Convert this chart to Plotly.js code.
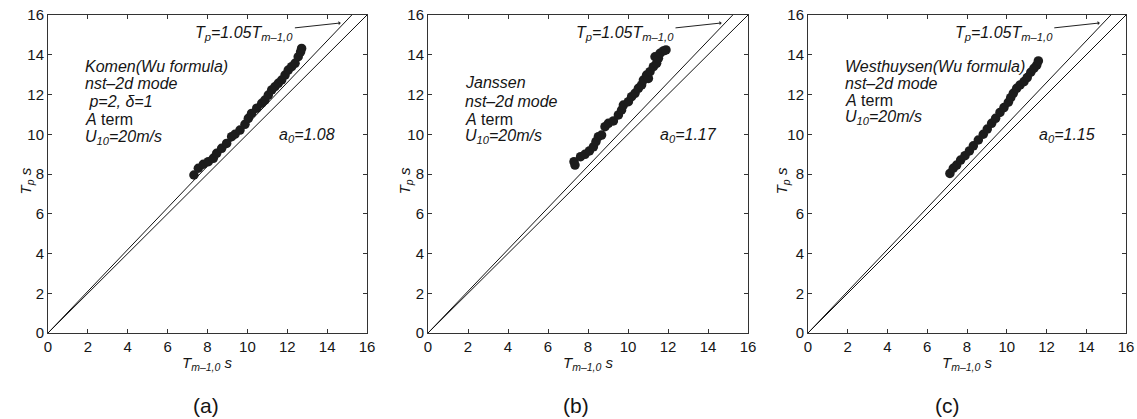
<!DOCTYPE html>
<html>
<head>
<meta charset="utf-8">
<script src="https://cdn.plot.ly/plotly-3.0.1.min.js"></script>
<style>html,body{margin:0;padding:0;background:#fff;}#chart{width:1137px;height:419px;}</style>
</head>
<body>
<div id="chart"></div>
<script>
// ---- data ----
const tickVals = [0, 2, 4, 6, 8, 10, 12, 14, 16];
const axisMax = 16;
const refRatios = [1.0, 1.05];

const komenX = [7.32,7.54,7.79,8.04,8.29,8.46,8.71,8.96,9.21,9.38,9.63,9.88,10.05,10.21,10.47,10.72,10.88,11.05,11.22,11.38,11.55,11.72,11.89,12.05,12.22,12.39,12.55,12.67,12.72];
const komenY = [7.95,8.29,8.49,8.62,8.79,9.04,9.29,9.54,9.88,10.00,10.21,10.50,10.80,11.05,11.31,11.56,11.72,11.97,12.23,12.39,12.56,12.73,12.98,13.23,13.40,13.57,13.90,14.15,14.32];

const janssenX = [7.30,7.35,7.63,7.85,8.07,8.27,8.40,8.52,8.68,8.85,9.02,9.27,9.52,9.68,9.77,10.02,10.18,10.35,10.52,10.68,10.77,10.93,11.02,11.10,11.27,11.35,11.43,11.52,11.60,11.77,11.90];
const janssenY = [8.62,8.45,8.87,8.99,9.16,9.37,9.63,9.88,9.96,10.38,10.55,10.67,10.97,11.22,11.47,11.64,11.89,12.06,12.31,12.48,12.73,12.98,12.81,13.15,13.40,13.90,13.57,13.82,14.07,14.19,14.24];

const westX = [7.14,7.31,7.48,7.68,7.90,8.12,8.32,8.57,8.82,9.02,9.24,9.44,9.66,9.86,10.08,10.20,10.33,10.50,10.67,10.87,11.03,11.21,11.37,11.51,11.59];
const westY = [8.03,8.29,8.45,8.70,8.92,9.16,9.42,9.71,10.00,10.26,10.55,10.80,11.10,11.34,11.61,11.84,12.06,12.31,12.48,12.65,12.85,13.12,13.32,13.48,13.69];

const a0Labels = ['1.08', '1.17', '1.15'];
const panelLabels = ['(a)', '(b)', '(c)'];
const modelLines = [
  ['<i>Komen(Wu formula)</i>', '<i>nst–2d mode</i>', '<i> p=2, δ=1</i>', '<i>A</i> term', '<i>U<sub>10</sub>=20m/s</i>'],
  ['<i>Janssen</i>', '<i>nst–2d mode</i>', '<i>A</i> term', '<i>U<sub>10</sub>=20m/s</i>'],
  ['<i>Westhuysen(Wu formula)</i>', '<i>nst–2d mode</i>', '<i>A</i> term', '<i>U<sub>10</sub>=20m/s</i>']
];
const modelLineY = [
  [13.43, 12.53, 11.67, 10.72, 9.86],
  [12.60, 11.67, 10.74, 9.91],
  [13.43, 12.53, 11.70, 10.82]
];

// ---- layout geometry ----
const W = 1137, H = 419;
const xDomains = [[48/W, 367/W], [428/W, 748/W], [808/W, 1126/W]];
const yDomain = [(H-333)/H, (H-15)/H];
const yTitleX = [25.5, 405.3, 782.3];
const panelLabelX = [206, 575.5, 947];

const FONT = 'Liberation Sans, Arial, Helvetica, sans-serif';
const TXT = '#151515';

const seriesX = [komenX, janssenX, westX];
const seriesY = [komenY, janssenY, westY];

const traces = [];
const annotations = [];
const layout = {
  width: W, height: H,
  margin: {l: 0, r: 0, t: 0, b: 0},
  paper_bgcolor: '#fff', plot_bgcolor: '#fff',
  showlegend: false,
  font: {family: FONT, size: 15, color: TXT}
};

for (let i = 0; i < 3; i++) {
  const sfx = i === 0 ? '' : String(i + 1);
  const xa = 'x' + sfx, ya = 'y' + sfx;
  const common = {
    range: [0, axisMax], tickvals: tickVals, ticks: 'inside', ticklen: 4,
    tickcolor: '#333', tickwidth: 1, showline: true, linecolor: '#333', linewidth: 1,
    mirror: 'ticks', showgrid: false, zeroline: false, fixedrange: true,
    tickfont: {family: FONT, size: 15, color: TXT}
  };
  layout['xaxis' + sfx] = Object.assign({}, common, {domain: xDomains[i], anchor: ya});
  layout['yaxis' + sfx] = Object.assign({}, common, {domain: yDomain, anchor: xa});

  // reference lines Tp = r * Tm
  refRatios.forEach(r => {
    traces.push({
      x: [0, axisMax / r], y: [0, axisMax], xaxis: xa, yaxis: ya,
      mode: 'lines', line: {color: '#111', width: 1}, hoverinfo: 'skip'
    });
  });
  // scatter
  traces.push({
    x: seriesX[i], y: seriesY[i], xaxis: xa, yaxis: ya, mode: 'markers',
    marker: {color: '#1c1c1c', size: 9.5, line: {width: 0}}
  });

  // model description lines
  modelLines[i].forEach((t, k) => {
    annotations.push({xref: xa, yref: ya, x: 1.75, y: modelLineY[i][k], text: t,
      showarrow: false, xanchor: 'left', yanchor: 'middle',
      font: {family: FONT, size: 16, color: TXT}});
  });
  // a0 label
  annotations.push({xref: xa, yref: ya, x: 11.5, y: 9.92, text: '<i>a<sub>0</sub>=' + a0Labels[i] + '</i>',
    showarrow: false, xanchor: 'left', yanchor: 'middle', font: {family: FONT, size: 16, color: TXT}});
  // Tp = 1.05 Tm label with arrow to the 1.05 line
  annotations.push({xref: xa, yref: ya, x: 14.68, y: 15.6, axref: xa, ayref: ya, ax: 9.85, ay: 15.08,
    text: '<i>T<sub>p</sub>=1.05T<sub>m–1,0</sub></i>', showarrow: true, arrowhead: 1, arrowsize: 0.7,
    arrowwidth: 1, arrowcolor: '#222', font: {family: FONT, size: 16, color: TXT}});
  // axis titles
  const xc = (xDomains[i][0] + xDomains[i][1]) / 2;
  annotations.push({xref: 'paper', yref: 'paper', x: xc, y: (H - 363) / H,
    text: '<i>T<sub>m–1,0</sub> s</i>', showarrow: false, xanchor: 'center', yanchor: 'middle',
    font: {family: FONT, size: 15, color: TXT}});
  annotations.push({xref: 'paper', yref: 'paper', x: yTitleX[i] / W, y: (H - 181) / H,
    text: '<i>T<sub>p</sub> s</i>', showarrow: false, textangle: -90, xanchor: 'center', yanchor: 'middle',
    font: {family: FONT, size: 15, color: TXT}});
  // panel label
  annotations.push({xref: 'paper', yref: 'paper', x: panelLabelX[i] / W, y: (H - 405) / H,
    text: panelLabels[i], showarrow: false, xanchor: 'center', yanchor: 'middle',
    font: {family: FONT, size: 21, color: TXT}});
}
layout.annotations = annotations;

Plotly.newPlot('chart', traces, layout, {displayModeBar: false});
</script>
</body>
</html>
